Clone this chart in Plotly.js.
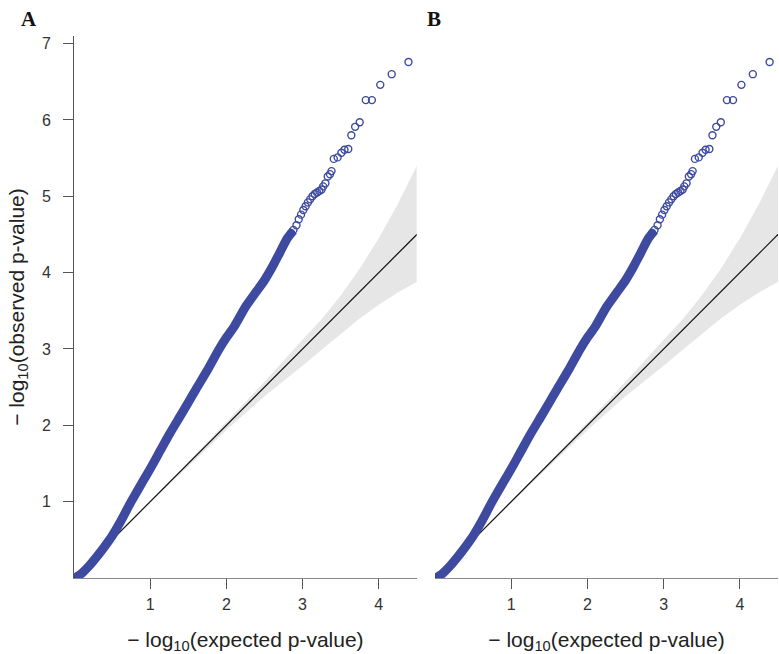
<!DOCTYPE html>
<html>
<head>
<meta charset="utf-8">
<script src="https://cdn.plot.ly/plotly-3.0.1.min.js"></script>
<style>html,body{margin:0;padding:0;background:#fff;}#chart{width:779px;height:654px;}</style>
</head>
<body>
<div id="chart"></div>
<script>
// Dense part of the QQ curve (expected vs observed -log10 p)
var denseExpected = [0.01, 0.1, 0.2, 0.3, 0.4, 0.5, 0.6, 0.75, 0.9, 1.0, 1.1, 1.25, 1.4, 1.5, 1.6, 1.75, 1.9, 2.0, 2.1, 2.25, 2.4, 2.5, 2.6, 2.7, 2.8, 2.88];
var denseObserved = [0.0, 0.06, 0.16, 0.28, 0.41, 0.55, 0.72, 1.0, 1.26, 1.43, 1.61, 1.88, 2.13, 2.30, 2.47, 2.72, 2.99, 3.15, 3.29, 3.55, 3.76, 3.90, 4.07, 4.26, 4.45, 4.55];
// Sparse tail, individual points
var tailExpected = [2.85, 2.88, 2.92, 2.95, 2.98, 3.01, 3.04, 3.07, 3.10, 3.13, 3.16, 3.19, 3.22, 3.25, 3.27, 3.30, 3.33, 3.36, 3.38, 3.41, 3.46, 3.51, 3.55, 3.60, 3.64, 3.69, 3.75, 3.83, 3.91, 4.02, 4.17, 4.39];
var tailObserved = [4.52, 4.56, 4.62, 4.70, 4.76, 4.82, 4.87, 4.92, 4.96, 5.00, 5.03, 5.05, 5.07, 5.09, 5.13, 5.17, 5.26, 5.29, 5.33, 5.49, 5.51, 5.57, 5.61, 5.62, 5.80, 5.91, 5.97, 6.26, 6.26, 6.46, 6.60, 6.76];
// Confidence band
var bandX = [0, 1, 2, 2.5, 3, 3.25, 3.5, 3.75, 4, 4.25, 4.5];
var bandUpper = [0, 1.01, 2.04, 2.57, 3.12, 3.39, 3.70, 4.05, 4.45, 4.90, 5.40];
var bandLower = [0, 0.99, 1.94, 2.38, 2.78, 2.99, 3.20, 3.40, 3.58, 3.74, 3.88];
// Reference diagonal
var diagX = [0, 4.5];
var diagY = [0, 4.5];
var tickVals = [1, 2, 3, 4];
var yTickVals = [1, 2, 3, 4, 5, 6, 7];

var blue = '#3d4aa0';
var traces = [];
[['x', 'y'], ['x2', 'y2']].forEach(function (ax) {
  traces.push({
    x: bandX.concat(bandX.slice().reverse()),
    y: bandUpper.concat(bandLower.slice().reverse()),
    xaxis: ax[0], yaxis: ax[1], type: 'scatter', mode: 'lines',
    fill: 'toself', fillcolor: '#e6e6e6', line: {width: 0, color: 'rgba(0,0,0,0)'},
    hoverinfo: 'skip', showlegend: false
  });
  traces.push({
    x: diagX, y: diagY, xaxis: ax[0], yaxis: ax[1], type: 'scatter', mode: 'lines',
    line: {color: '#111', width: 1.2}, showlegend: false
  });
  traces.push({
    x: denseExpected, y: denseObserved, xaxis: ax[0], yaxis: ax[1], type: 'scatter', mode: 'lines',
    line: {color: blue, width: 9, shape: 'spline', smoothing: 0.6}, showlegend: false
  });
  traces.push({
    x: tailExpected, y: tailObserved, xaxis: ax[0], yaxis: ax[1], type: 'scatter', mode: 'markers',
    marker: {symbol: 'circle-open', size: 7, color: blue, line: {width: 1.4, color: blue}}, showlegend: false
  });
});

var tickFont = {family: 'Liberation Sans, Arial, sans-serif', size: 16, color: '#333'};
var titleFont = {family: 'Liberation Sans, Arial, sans-serif', size: 21, color: '#222'};
var xTitle = '\u2212 log<sub>10</sub>(expected p-value)';

var layout = {
  width: 779, height: 654,
  margin: {l: 74, r: 1, t: 36, b: 76, pad: 0},
  paper_bgcolor: '#fff', plot_bgcolor: '#fff',
  showlegend: false,
  xaxis: {domain: [0, 0.487], range: [0, 4.5], tickvals: tickVals, ticks: 'outside', ticklen: 10, tickcolor: '#555',
    ticklabelstandoff: 2,
    showline: true, linecolor: '#888', linewidth: 1, showgrid: false, zeroline: false, tickfont: tickFont,
    title: {text: xTitle, font: titleFont, standoff: 20}},
  yaxis: {domain: [0, 1], range: [0, 7.1], tickvals: yTickVals, ticks: 'outside', ticklen: 10, tickcolor: '#555',
    ticklabelstandoff: 9,
    showline: true, linecolor: '#555', linewidth: 1, showgrid: false, zeroline: false, tickfont: tickFont,
    title: {text: '\u2212 log<sub>10</sub>(observed p-value)', font: titleFont, standoff: 11}},
  xaxis2: {domain: [0.5128, 1], range: [0, 4.5], anchor: 'y2', tickvals: tickVals, ticks: 'outside', ticklen: 10, tickcolor: '#555',
    ticklabelstandoff: 2,
    showline: true, linecolor: '#888', linewidth: 1, showgrid: false, zeroline: false, tickfont: tickFont,
    title: {text: xTitle, font: titleFont, standoff: 20}},
  yaxis2: {domain: [0, 1], range: [0, 7.1], anchor: 'x2', showticklabels: false, ticks: '', showline: false,
    showgrid: false, zeroline: false},
  annotations: [
    {text: '<b>A</b>', xref: 'paper', yref: 'paper', x: -0.078, y: 1.058, xanchor: 'left', yanchor: 'top',
      showarrow: false, font: {family: 'Liberation Serif, Times New Roman, serif', size: 21, color: '#111'}},
    {text: '<b>B</b>', xref: 'paper', yref: 'paper', x: 0.4986, y: 1.058, xanchor: 'left', yanchor: 'top',
      showarrow: false, font: {family: 'Liberation Serif, Times New Roman, serif', size: 21, color: '#111'}}
  ]
};

Plotly.newPlot('chart', traces, layout, {displayModeBar: false, staticPlot: true});
</script>
</body>
</html>
